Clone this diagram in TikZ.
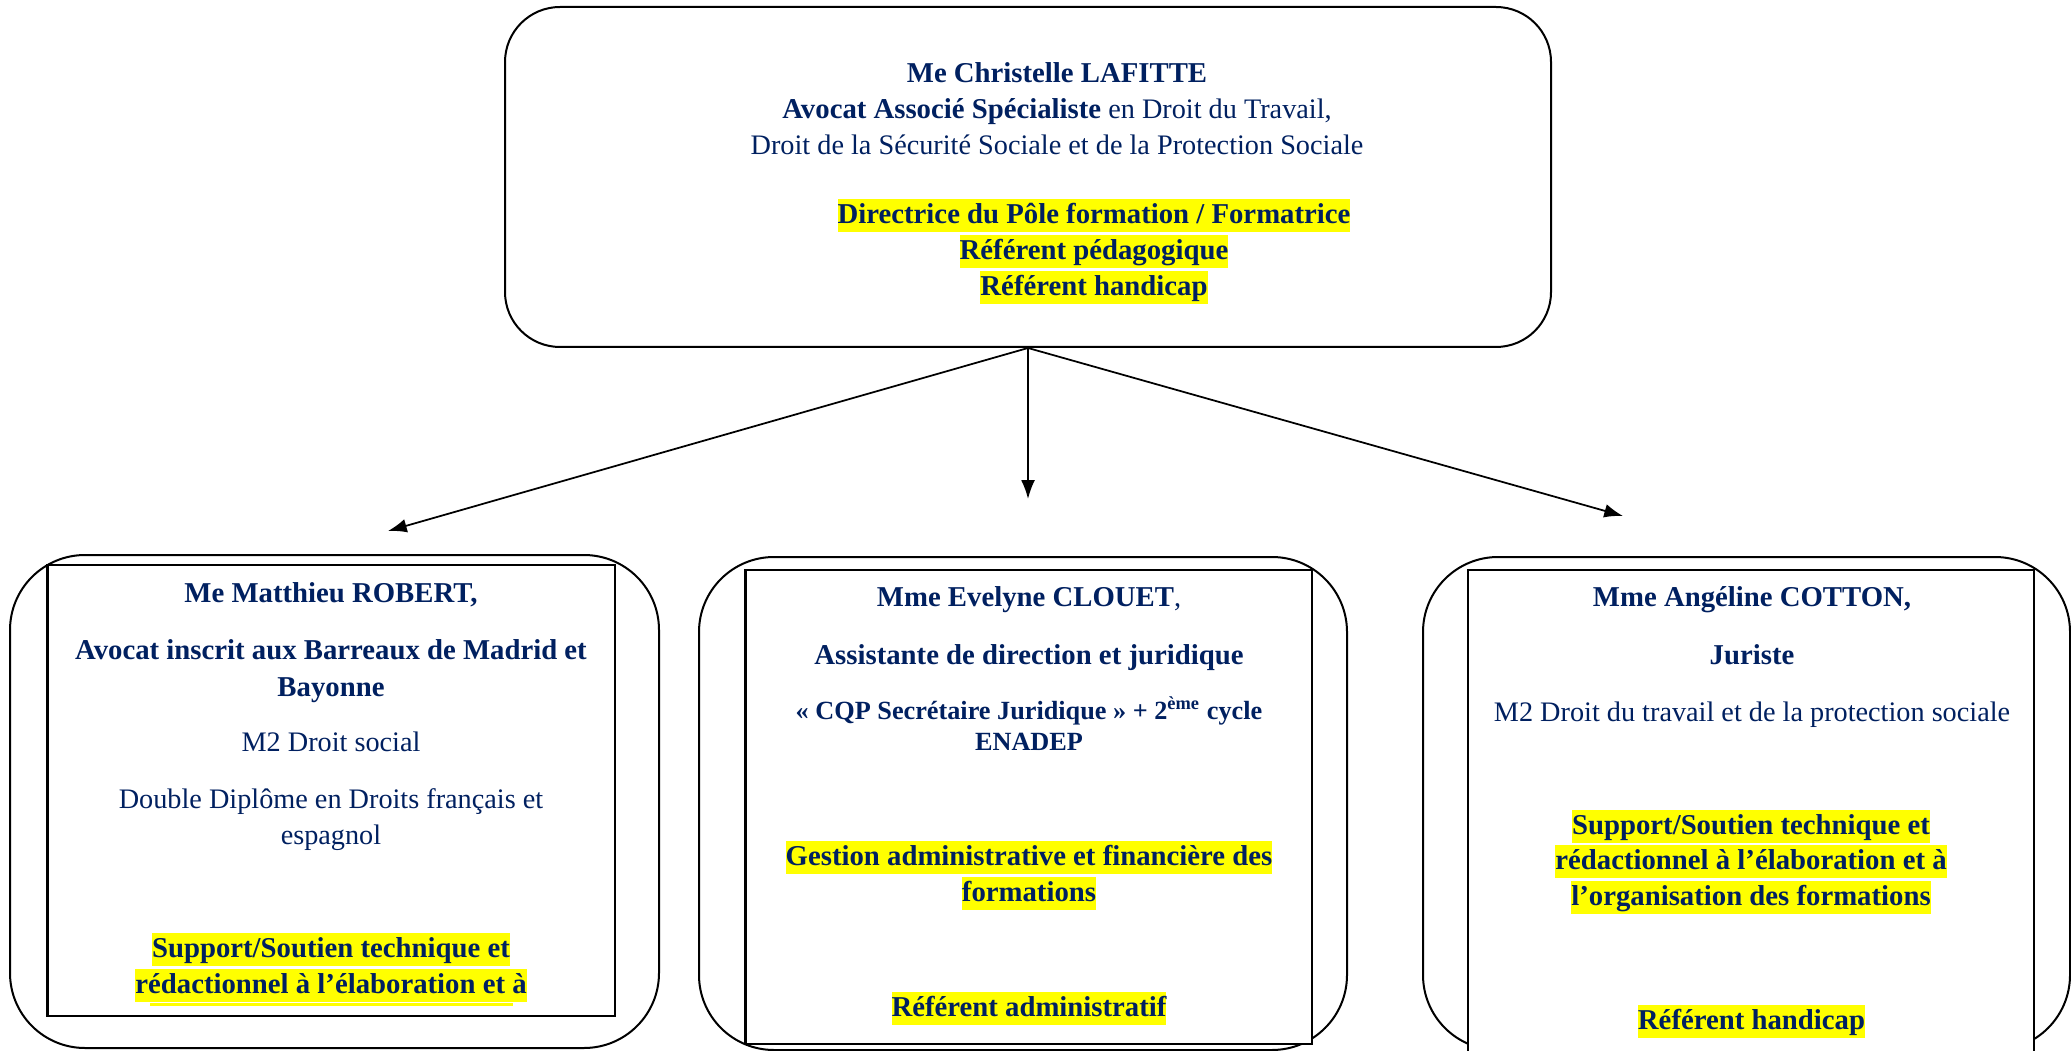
\documentclass[tikz,border=0pt]{standalone}
\usepackage{fontspec}
\setmainfont{Liberation Serif}
\usetikzlibrary{arrows.meta,fit}
\definecolor{navy}{RGB}{0,32,96}
\definecolor{hlyellow}{RGB}{255,255,0}
\newcommand{\hlstrut}{\rule[-3.4pt]{0pt}{13.2pt}}
\newcommand{\smstrut}{\rule[-3pt]{0pt}{11.6pt}}
\newcommand{\hlite}[1]{{\setlength{\fboxsep}{0pt}\colorbox{hlyellow}{\hlstrut#1}}}
\tikzset{
  headbox/.style={draw, line width=0.8pt, rounded corners=22pt, inner sep=0pt},
  outerframe/.style={draw, line width=0.8pt, rounded corners=30pt, inner sep=0pt},
  innerbox/.style={draw, line width=1pt, fill=white, inner sep=0pt},
  txt/.style={text=navy, align=center, inner sep=0pt, font=\fontsize{11.3}{14.2}\selectfont},
  txtbold/.style={txt, font=\fontsize{11.5}{14.2}\selectfont\bfseries},
  txtsmall/.style={txt, font=\fontsize{10.5}{12.4}\selectfont\bfseries},
  link/.style={line width=0.7pt, -{Latex[length=7.5pt,width=5.5pt]}}
}
\begin{document}
\begin{tikzpicture}[x=0.4pt,y=-0.4pt]
\useasboundingbox (0,0) rectangle (2071,1051);
\clip (0,0) rectangle (2071,1051);

\node[headbox, fit={(505,7) (1551,347)}] (head) {};
\node[outerframe, fit={(10,555) (659,1048)}] (robertFrame) {};
\node[outerframe, fit={(699,557) (1347,1050)}] (clouetFrame) {};
\node[outerframe, fit={(1423,557) (2070,1050)}] (cottonFrame) {};
\node[innerbox, fit={(47.5,565) (615,1016)}] (robertBox) {};
\node[innerbox, fit={(745.5,570) (1312,1044)}] (clouetBox) {};
\node[innerbox, fit={(1468,570) (2034,1090)}] (cottonBox) {};

\node[txt, font=\fontsize{11.3}{14.4}\selectfont] (headName) at (1057,111) {\hlstrut\textbf{\fontsize{11.5}{14.4}\selectfont Me Christelle LAFITTE}\\ \hlstrut\textbf{\fontsize{11.5}{14.4}\selectfont Avocat Associé Spécialiste} en Droit du Travail,\\ \hlstrut Droit de la Sécurité Sociale et de la Protection Sociale};
\node[txtbold, font=\fontsize{11.5}{14.3}\selectfont\bfseries] (headRoles) at (1094,251.5) {\hlite{Directrice du Pôle formation / Formatrice}\\ \hlite{Référent pédagogique}\\ \hlite{Référent handicap}};

\node[txtbold] (robertName) at (331,594) {\hlstrut Me Matthieu ROBERT,};
\node[txtbold, font=\fontsize{11.5}{14.8}\selectfont\bfseries] (robertTitle) at (331,669.5) {\hlstrut Avocat inscrit aux Barreaux de Madrid et\\ \hlstrut Bayonne};
\node[txt] (robertDegree) at (331,743) {\hlstrut M2 Droit social};
\node[txt] (robertDouble) at (331,818.5) {\hlstrut Double Diplôme en Droits français et\\ \hlstrut espagnol};
\node[txtbold] (robertRole) at (331,967.5) {\hlite{Support/Soutien technique et}\\ \hlite{rédactionnel à l’élaboration et à}};
\fill[hlyellow] (150,1003) rectangle (513,1006);

\node[txt] (clouetName) at (1029,598) {\hlstrut\textbf{\fontsize{11.5}{14.2}\selectfont Mme Evelyne CLOUET},};
\node[txtbold] (clouetTitle) at (1029,656) {\hlstrut Assistante de direction et juridique};
\node[txtsmall] (clouetDegree) at (1029,727.5) {\smstrut«~CQP Secrétaire Juridique~» + 2\textsuperscript{ème} cycle\\ \smstrut ENADEP};
\node[txtbold] (clouetRole) at (1029,875.5) {\hlite{Gestion administrative et financière des}\\ \hlite{formations}};
\node[txtbold] (clouetRef) at (1029,1008) {\hlite{Référent administratif}};

\node[txtbold] (cottonName) at (1752,598) {\hlstrut Mme Angéline COTTON,};
\node[txtbold] (cottonTitle) at (1752,656) {\hlstrut Juriste};
\node[txt] (cottonDegree) at (1752,713) {\hlstrut M2 Droit du travail et de la protection sociale};
\node[txtbold] (cottonRole) at (1751,861.5) {\hlite{Support/Soutien technique et}\\ \hlite{rédactionnel à l’élaboration et à}\\ \hlite{l’organisation des formations}};
\node[txtbold] (cottonRef) at (1751.5,1021) {\hlite{Référent handicap}};

\coordinate (toRobert) at (388,531);
\coordinate (toClouet) at (1028,499);
\coordinate (toCotton) at (1623,516);
\draw[link] (head.south) -- (toRobert);
\draw[link] (head.south) -- (toClouet);
\draw[link] (head.south) -- (toCotton);
\end{tikzpicture}
\end{document}
